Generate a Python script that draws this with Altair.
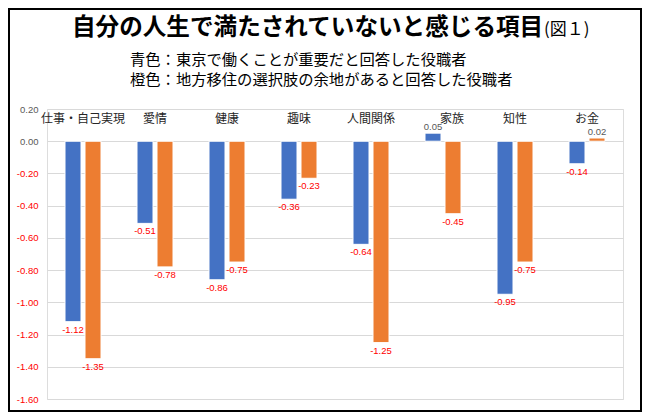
import altair as alt
import pandas as pd

categories = ["仕事・自己実現", "愛情", "健康", "趣味", "人間関係", "家族", "知性", "お金"]
series_names = ["青色", "橙色"]
blue_values = [-1.12, -0.51, -0.86, -0.36, -0.64, 0.05, -0.95, -0.14]
orange_values = [-1.35, -0.78, -0.75, -0.23, -1.25, -0.45, -0.75, 0.02]
y_ticks = [0.2, 0.0, -0.2, -0.4, -0.6, -0.8, -1.0, -1.2, -1.4, -1.6]

title_main = "自分の人生で満たされていないと感じる項目"
title_tail = "(図１)"
sub1 = "青色：東京で働くことが重要だと回答した役職者"
sub2 = "橙色：地方移住の選択肢の余地があると回答した役職者"

rows = []
for c, b, o in zip(categories, blue_values, orange_values):
    rows.append({"cat": c, "series": series_names[0], "v": b})
    rows.append({"cat": c, "series": series_names[1], "v": o})
df = pd.DataFrame(rows)
cat_df = pd.DataFrame({"cat": categories})

CJK = "Noto Sans CJK JP"
NUM = "Liberation Sans"

x_enc = alt.X("cat:N", sort=categories, axis=None,
              scale=alt.Scale(paddingInner=0, paddingOuter=0))
xo_enc = alt.XOffset("series:N", sort=series_names,
                     scale=alt.Scale(paddingInner=0.2, paddingOuter=0.9))
y_scale = alt.Scale(domain=[-1.6, 0.2], nice=False, zero=False)
y_axis = alt.Axis(values=y_ticks, format=".2f", title=None,
                  labelExpr="replace(datum.label, '\u2212', '-')",
                  ticks=False, domain=False, labelPadding=9,
                  labelOverlap=False, labelBound=False, labelFlush=False,
                  labelFont=NUM, labelFontSize=9.5,
                  labelColor=alt.condition("datum.value < 0",
                                           alt.value("#FF0000"),
                                           alt.value("#595959")),
                  gridColor="#D9D9D9", gridWidth=1)
y_enc = alt.Y("v:Q", scale=y_scale, axis=y_axis)

base = alt.Chart(df).transform_calculate(
    lbl="replace(format(datum.v, '.2f'), '\u2212', '-')"
)

bars = base.mark_bar(stroke="white", strokeWidth=1).encode(
    x=x_enc,
    xOffset=xo_enc,
    y=y_enc,
    y2=alt.datum(0),
    color=alt.Color("series:N", sort=series_names, legend=None,
                    scale=alt.Scale(domain=series_names,
                                    range=["#4472C4", "#ED7D31"])),
)

neg_labels = base.transform_filter("datum.v < 0").mark_text(
    baseline="top", dy=3, font=NUM, fontSize=9.5, color="#FF0000"
).encode(x=x_enc, xOffset=xo_enc, y=y_enc, text="lbl:N")

pos_labels = base.transform_filter("datum.v >= 0").mark_text(
    baseline="bottom", dy=-1, font=NUM, fontSize=9.5, color="#595959"
).encode(x=x_enc, xOffset=xo_enc, y=y_enc, text="lbl:N")

cat_labels = alt.Chart(cat_df).transform_filter("datum.cat != '家族'").mark_text(
    font=CJK, fontSize=12, color="#262626", baseline="middle"
).encode(x=x_enc, y=alt.value(10), text="cat:N")

cat_label_shift = alt.Chart(cat_df).transform_filter("datum.cat == '家族'").mark_text(
    font=CJK, fontSize=12, color="#262626", baseline="middle", dx=9
).encode(x=x_enc, y=alt.value(10), text="cat:N")

title1 = alt.Chart(pd.DataFrame({"t": [title_main]})).mark_text(
    font=CJK, fontSize=23.6, fontWeight="bold", align="left",
    baseline="alphabetic", color="#000000"
).encode(x=alt.value(25), y=alt.value(-74), text="t:N")

title2 = alt.Chart(pd.DataFrame({"t": [title_tail]})).mark_text(
    font=CJK, fontSize=17, align="left", baseline="alphabetic", color="#000000"
).encode(x=alt.value(497), y=alt.value(-74), text="t:N")

subs = alt.Chart(pd.DataFrame({"t": [sub1, sub2], "yy": [-49, -29]})).mark_text(
    font=CJK, fontSize=15.3, align="left", baseline="middle", color="#000000"
).encode(x=alt.value(83), y=alt.Y("yy:Q", scale=None), text="t:N")

border = alt.Chart(pd.DataFrame({"a": [0]})).mark_rect(
    fillOpacity=0, stroke="black", strokeWidth=2
).encode(x=alt.value(-38), x2=alt.value(594), y=alt.value(-100), y2=alt.value(302))

chart = alt.layer(bars, neg_labels, pos_labels, cat_labels, cat_label_shift,
                  title1, title2, subs, border).properties(
    width=576, height=290,
    autosize=alt.AutoSizeParams(type="none"),
    padding={"left": 39, "top": 101, "right": 19, "bottom": 13},
).configure_view(stroke=None).configure(background="white")

chart.save("out.html", embed_options={"renderer": "svg", "actions": False})
